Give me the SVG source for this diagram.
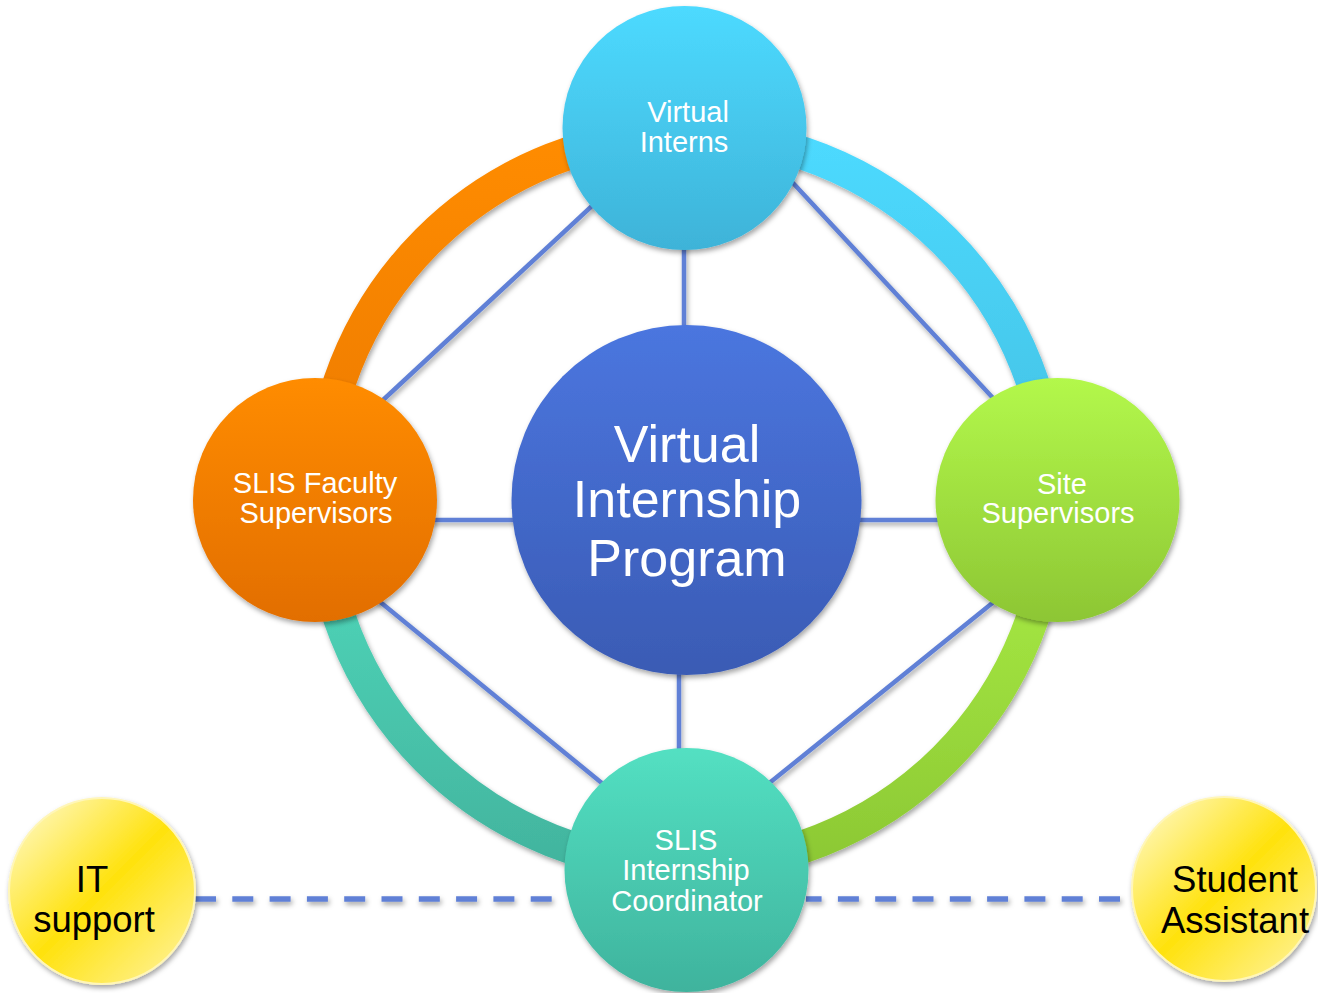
<svg xmlns="http://www.w3.org/2000/svg" width="1318" height="993" viewBox="0 0 1318 993">
  <style>
    .spoke { stroke: #6080D6; stroke-width: 4.5; fill: none; }
    .dash { stroke: #6080D6; stroke-width: 5.5; fill: none; stroke-dasharray: 21 16.3; }
    .ring { fill: none; stroke-width: 33; }
    .lbl { font-family: "Liberation Sans", Arial, sans-serif; fill: #FFFFFF; text-anchor: middle; }
    .lbl-dark { font-family: "Liberation Sans", Arial, sans-serif; fill: #000000; text-anchor: middle; }
  </style>
  <defs>
    <filter id="shadow" x="-20%" y="-20%" width="140%" height="140%">
      <feDropShadow dx="1.5" dy="3" stdDeviation="2.5" flood-color="#000000" flood-opacity="0.35"/>
    </filter>
    <linearGradient id="gTop" x1="0" y1="0" x2="0" y2="1">
      <stop offset="0" stop-color="#4DDAFF"/>
      <stop offset="1" stop-color="#3EB3D8"/>
    </linearGradient>
    <linearGradient id="gCenter" x1="0" y1="0" x2="0" y2="1">
      <stop offset="0" stop-color="#4B76DF"/>
      <stop offset="1" stop-color="#3A5BB4"/>
    </linearGradient>
    <linearGradient id="gLeft" x1="0" y1="0" x2="0" y2="1">
      <stop offset="0" stop-color="#FF8C00"/>
      <stop offset="1" stop-color="#E26E00"/>
    </linearGradient>
    <linearGradient id="gRight" x1="0" y1="0" x2="0" y2="1">
      <stop offset="0" stop-color="#B3F84B"/>
      <stop offset="1" stop-color="#8DC634"/>
    </linearGradient>
    <linearGradient id="gBottom" x1="0" y1="0" x2="0" y2="1">
      <stop offset="0" stop-color="#53E0C2"/>
      <stop offset="1" stop-color="#3FB39D"/>
    </linearGradient>
    <linearGradient id="gYellow" x1="0" y1="0" x2="1" y2="1">
      <stop offset="0" stop-color="#FFFBDA"/>
      <stop offset="0.5" stop-color="#FFE20C"/>
      <stop offset="1" stop-color="#FFF4A8"/>
    </linearGradient>
    <linearGradient id="gArcOrange" gradientUnits="userSpaceOnUse" x1="0" y1="134" x2="0" y2="500">
      <stop offset="0" stop-color="#FF8C00"/>
      <stop offset="1" stop-color="#EC7A00"/>
    </linearGradient>
    <linearGradient id="gArcCyan" gradientUnits="userSpaceOnUse" x1="0" y1="134" x2="0" y2="500">
      <stop offset="0" stop-color="#4DDAFF"/>
      <stop offset="1" stop-color="#42C0E2"/>
    </linearGradient>
    <linearGradient id="gArcGreen" gradientUnits="userSpaceOnUse" x1="0" y1="500" x2="0" y2="866">
      <stop offset="0" stop-color="#ACF046"/>
      <stop offset="1" stop-color="#8CC834"/>
    </linearGradient>
    <linearGradient id="gArcTeal" gradientUnits="userSpaceOnUse" x1="0" y1="500" x2="0" y2="866">
      <stop offset="0" stop-color="#52DCBE"/>
      <stop offset="1" stop-color="#42B49E"/>
    </linearGradient>
  </defs>

  <rect width="1318" height="993" fill="#FFFFFF"/>

  <!-- connectors: spokes, dashed links and the outer ring -->
  <g id="connectors">
    <g filter="url(#shadow)">
      <line class="spoke" x1="684" y1="240" x2="684" y2="340"/>
      <line class="spoke" x1="679" y1="660" x2="679" y2="760"/>
      <line class="spoke" x1="420" y1="520" x2="530" y2="520"/>
      <line class="spoke" x1="845" y1="520" x2="950" y2="520"/>
      <line class="spoke" x1="607" y1="192" x2="368" y2="414"/>
      <line class="spoke" x1="780" y1="169" x2="1006" y2="412"/>
      <line class="spoke" x1="368" y1="592" x2="614" y2="793"/>
      <line class="spoke" x1="1006" y1="592" x2="757" y2="793"/>
      <line class="dash" x1="195" y1="899" x2="556" y2="899"/>
      <line class="dash" x1="1120" y1="899" x2="806" y2="899"/>
    </g>
    <g filter="url(#shadow)">
      <path class="ring" stroke="url(#gArcOrange)" d="M320,500 A366,366 0 0 1 686,134"/>
      <path class="ring" stroke="url(#gArcCyan)" d="M686,134 A366,366 0 0 1 1052,500"/>
      <path class="ring" stroke="url(#gArcGreen)" d="M1052,500 A366,366 0 0 1 686,866"/>
      <path class="ring" stroke="url(#gArcTeal)" d="M686,866 A366,366 0 0 1 320,500"/>
    </g>
  </g>

  <g id="node-center">
    <circle cx="686.5" cy="500" r="175" fill="url(#gCenter)" filter="url(#shadow)"/>
    <text class="lbl" font-size="52" x="687" y="462">Virtual</text>
    <text class="lbl" font-size="52" x="687" y="517">Internship</text>
    <text class="lbl" font-size="52" x="687" y="576">Program</text>
  </g>

  <g id="node-interns">
    <circle cx="684.5" cy="128" r="122" fill="url(#gTop)" filter="url(#shadow)"/>
    <text class="lbl" font-size="29" x="688" y="122">Virtual</text>
    <text class="lbl" font-size="29" x="684" y="152">Interns</text>
  </g>

  <g id="node-faculty">
    <circle cx="315" cy="500" r="122" fill="url(#gLeft)" filter="url(#shadow)"/>
    <text class="lbl" font-size="29" x="315" y="493">SLIS Faculty</text>
    <text class="lbl" font-size="29" x="316" y="523">Supervisors</text>
  </g>

  <g id="node-site">
    <circle cx="1057.5" cy="500" r="122" fill="url(#gRight)" filter="url(#shadow)"/>
    <text class="lbl" font-size="29" x="1062" y="494">Site</text>
    <text class="lbl" font-size="29" x="1058" y="523">Supervisors</text>
  </g>

  <g id="node-coordinator">
    <circle cx="686.5" cy="870" r="122" fill="url(#gBottom)" filter="url(#shadow)"/>
    <text class="lbl" font-size="29" x="686" y="850">SLIS</text>
    <text class="lbl" font-size="29" x="686" y="880">Internship</text>
    <text class="lbl" font-size="29" x="687" y="911">Coordinator</text>
  </g>

  <g id="node-it">
    <circle cx="102" cy="891" r="93" fill="url(#gYellow)" stroke="#FFF6B8" stroke-width="2" filter="url(#shadow)"/>
    <text class="lbl-dark" font-size="36.5" x="92" y="892">IT</text>
    <text class="lbl-dark" font-size="36.5" x="94" y="932">support</text>
  </g>

  <g id="node-student">
    <circle cx="1224" cy="889" r="92" fill="url(#gYellow)" stroke="#FFF6B8" stroke-width="2" filter="url(#shadow)"/>
    <text class="lbl-dark" font-size="36.5" x="1235" y="892">Student</text>
    <text class="lbl-dark" font-size="36.5" x="1235" y="933">Assistant</text>
  </g>
</svg>
